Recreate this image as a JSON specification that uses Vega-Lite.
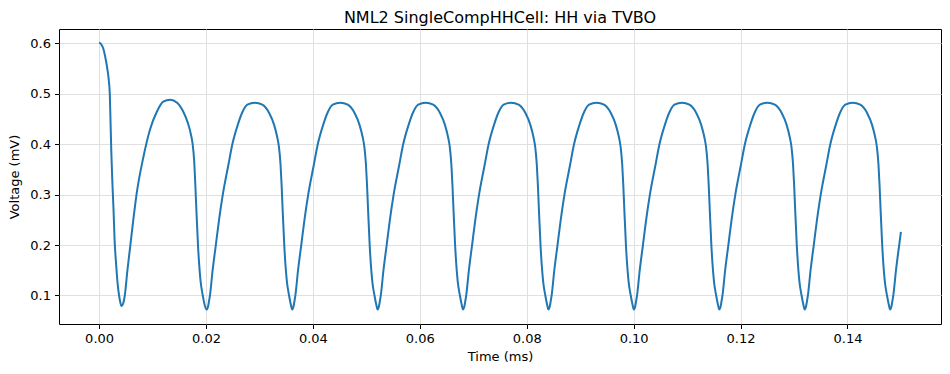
{
  "$schema": "https://vega.github.io/schema/vega-lite/v6.json",
  "autosize": "none",
  "width": 882,
  "height": 295,
  "padding": {"left": 59, "top": 29, "right": 9, "bottom": 50},
  "background": "white",
  "title": {
    "text": "NML2 SingleCompHHCell: HH via TVBO",
    "font": "DejaVu Sans",
    "fontSize": 16,
    "fontWeight": "normal",
    "color": "black",
    "anchor": "middle",
    "baseline": "bottom",
    "offset": 3,
    "dy": 16
  },
  "config": {
    "view": {"stroke": "black", "strokeWidth": 1},
    "axis": {
      "labelFont": "DejaVu Sans",
      "labelFontSize": 13,
      "labelColor": "black",
      "titleFont": "DejaVu Sans",
      "titleFontSize": 13,
      "titleFontWeight": "normal",
      "titleColor": "black",
      "tickColor": "black",
      "tickSize": 4.5,
      "tickWidth": 1,
      "domain": false,
      "grid": true,
      "gridColor": "#e0e0e0",
      "gridWidth": 1
    }
  },
  "data": {
    "values": [
      {"t": 0.0000, "v": 0.601},
      {"t": 0.0003, "v": 0.599},
      {"t": 0.0006, "v": 0.594},
      {"t": 0.0009, "v": 0.585},
      {"t": 0.0012, "v": 0.570},
      {"t": 0.0015, "v": 0.552},
      {"t": 0.0018, "v": 0.528},
      {"t": 0.0020, "v": 0.500},
      {"t": 0.00215, "v": 0.440},
      {"t": 0.0023, "v": 0.380},
      {"t": 0.0025, "v": 0.320},
      {"t": 0.0027, "v": 0.270},
      {"t": 0.0029, "v": 0.210},
      {"t": 0.0032, "v": 0.160},
      {"t": 0.0035, "v": 0.120},
      {"t": 0.00374, "v": 0.100},
      {"t": 0.0039, "v": 0.090},
      {"t": 0.0042, "v": 0.079},
      {"t": 0.0045, "v": 0.084},
      {"t": 0.00481, "v": 0.100},
      {"t": 0.0053, "v": 0.150},
      {"t": 0.00585, "v": 0.200},
      {"t": 0.0064, "v": 0.250},
      {"t": 0.0070, "v": 0.300},
      {"t": 0.0083, "v": 0.375},
      {"t": 0.0095, "v": 0.428},
      {"t": 0.0108, "v": 0.464},
      {"t": 0.0120, "v": 0.484},
      {"t": 0.0133, "v": 0.488},
      {"t": 0.0146, "v": 0.482},
      {"t": 0.0158, "v": 0.463},
      {"t": 0.0166, "v": 0.442},
      {"t": 0.0172, "v": 0.418},
      {"t": 0.0175, "v": 0.400},
      {"t": 0.0178, "v": 0.365},
      {"t": 0.0180, "v": 0.320},
      {"t": 0.0182, "v": 0.270},
      {"t": 0.0185, "v": 0.200},
      {"t": 0.0190, "v": 0.127},
      {"t": 0.0194, "v": 0.100},
      {"t": 0.01975, "v": 0.081},

      {"t": 0.02014, "v": 0.072},
      {"t": 0.02034, "v": 0.076},
      {"t": 0.02054, "v": 0.087},
      {"t": 0.02074, "v": 0.100},
      {"t": 0.02124, "v": 0.150},
      {"t": 0.02184, "v": 0.200},
      {"t": 0.02244, "v": 0.250},
      {"t": 0.02314, "v": 0.300},
      {"t": 0.02414, "v": 0.356},
      {"t": 0.02494, "v": 0.400},
      {"t": 0.02594, "v": 0.438},
      {"t": 0.02684, "v": 0.464},
      {"t": 0.02774, "v": 0.478},
      {"t": 0.02914, "v": 0.482},
      {"t": 0.03054, "v": 0.478},
      {"t": 0.03184, "v": 0.461},
      {"t": 0.03274, "v": 0.438},
      {"t": 0.03334, "v": 0.413},
      {"t": 0.03364, "v": 0.395},
      {"t": 0.03394, "v": 0.360},
      {"t": 0.03414, "v": 0.320},
      {"t": 0.03434, "v": 0.270},
      {"t": 0.03464, "v": 0.200},
      {"t": 0.03514, "v": 0.127},
      {"t": 0.03554, "v": 0.100},
      {"t": 0.03589, "v": 0.081},

      {"t": 0.03612, "v": 0.072},
      {"t": 0.03632, "v": 0.076},
      {"t": 0.03652, "v": 0.087},
      {"t": 0.03672, "v": 0.100},
      {"t": 0.03722, "v": 0.150},
      {"t": 0.03782, "v": 0.200},
      {"t": 0.03842, "v": 0.250},
      {"t": 0.03912, "v": 0.300},
      {"t": 0.04012, "v": 0.356},
      {"t": 0.04092, "v": 0.400},
      {"t": 0.04192, "v": 0.438},
      {"t": 0.04282, "v": 0.464},
      {"t": 0.04372, "v": 0.478},
      {"t": 0.04512, "v": 0.482},
      {"t": 0.04652, "v": 0.478},
      {"t": 0.04782, "v": 0.461},
      {"t": 0.04872, "v": 0.438},
      {"t": 0.04932, "v": 0.413},
      {"t": 0.04962, "v": 0.395},
      {"t": 0.04992, "v": 0.360},
      {"t": 0.05012, "v": 0.320},
      {"t": 0.05032, "v": 0.270},
      {"t": 0.05062, "v": 0.200},
      {"t": 0.05112, "v": 0.127},
      {"t": 0.05152, "v": 0.100},
      {"t": 0.05187, "v": 0.081},

      {"t": 0.05210, "v": 0.072},
      {"t": 0.05230, "v": 0.076},
      {"t": 0.05250, "v": 0.087},
      {"t": 0.05270, "v": 0.100},
      {"t": 0.05320, "v": 0.150},
      {"t": 0.05380, "v": 0.200},
      {"t": 0.05440, "v": 0.250},
      {"t": 0.05510, "v": 0.300},
      {"t": 0.05610, "v": 0.356},
      {"t": 0.05690, "v": 0.400},
      {"t": 0.05790, "v": 0.438},
      {"t": 0.05880, "v": 0.464},
      {"t": 0.05970, "v": 0.478},
      {"t": 0.06110, "v": 0.482},
      {"t": 0.06250, "v": 0.478},
      {"t": 0.06380, "v": 0.461},
      {"t": 0.06470, "v": 0.438},
      {"t": 0.06530, "v": 0.413},
      {"t": 0.06560, "v": 0.395},
      {"t": 0.06590, "v": 0.360},
      {"t": 0.06610, "v": 0.320},
      {"t": 0.06630, "v": 0.270},
      {"t": 0.06660, "v": 0.200},
      {"t": 0.06710, "v": 0.127},
      {"t": 0.06750, "v": 0.100},
      {"t": 0.06785, "v": 0.081},

      {"t": 0.06808, "v": 0.072},
      {"t": 0.06828, "v": 0.076},
      {"t": 0.06848, "v": 0.087},
      {"t": 0.06868, "v": 0.100},
      {"t": 0.06918, "v": 0.150},
      {"t": 0.06978, "v": 0.200},
      {"t": 0.07038, "v": 0.250},
      {"t": 0.07108, "v": 0.300},
      {"t": 0.07208, "v": 0.356},
      {"t": 0.07288, "v": 0.400},
      {"t": 0.07388, "v": 0.438},
      {"t": 0.07478, "v": 0.464},
      {"t": 0.07568, "v": 0.478},
      {"t": 0.07708, "v": 0.482},
      {"t": 0.07848, "v": 0.478},
      {"t": 0.07978, "v": 0.461},
      {"t": 0.08068, "v": 0.438},
      {"t": 0.08128, "v": 0.413},
      {"t": 0.08158, "v": 0.395},
      {"t": 0.08188, "v": 0.360},
      {"t": 0.08208, "v": 0.320},
      {"t": 0.08228, "v": 0.270},
      {"t": 0.08258, "v": 0.200},
      {"t": 0.08308, "v": 0.127},
      {"t": 0.08348, "v": 0.100},
      {"t": 0.08383, "v": 0.081},

      {"t": 0.08406, "v": 0.072},
      {"t": 0.08426, "v": 0.076},
      {"t": 0.08446, "v": 0.087},
      {"t": 0.08466, "v": 0.100},
      {"t": 0.08516, "v": 0.150},
      {"t": 0.08576, "v": 0.200},
      {"t": 0.08636, "v": 0.250},
      {"t": 0.08706, "v": 0.300},
      {"t": 0.08806, "v": 0.356},
      {"t": 0.08886, "v": 0.400},
      {"t": 0.08986, "v": 0.438},
      {"t": 0.09076, "v": 0.464},
      {"t": 0.09166, "v": 0.478},
      {"t": 0.09306, "v": 0.482},
      {"t": 0.09446, "v": 0.478},
      {"t": 0.09576, "v": 0.461},
      {"t": 0.09666, "v": 0.438},
      {"t": 0.09726, "v": 0.413},
      {"t": 0.09756, "v": 0.395},
      {"t": 0.09786, "v": 0.360},
      {"t": 0.09806, "v": 0.320},
      {"t": 0.09826, "v": 0.270},
      {"t": 0.09856, "v": 0.200},
      {"t": 0.09906, "v": 0.127},
      {"t": 0.09946, "v": 0.100},
      {"t": 0.09981, "v": 0.081},

      {"t": 0.10004, "v": 0.072},
      {"t": 0.10024, "v": 0.076},
      {"t": 0.10044, "v": 0.087},
      {"t": 0.10064, "v": 0.100},
      {"t": 0.10114, "v": 0.150},
      {"t": 0.10174, "v": 0.200},
      {"t": 0.10234, "v": 0.250},
      {"t": 0.10304, "v": 0.300},
      {"t": 0.10404, "v": 0.356},
      {"t": 0.10484, "v": 0.400},
      {"t": 0.10584, "v": 0.438},
      {"t": 0.10674, "v": 0.464},
      {"t": 0.10764, "v": 0.478},
      {"t": 0.10904, "v": 0.482},
      {"t": 0.11044, "v": 0.478},
      {"t": 0.11174, "v": 0.461},
      {"t": 0.11264, "v": 0.438},
      {"t": 0.11324, "v": 0.413},
      {"t": 0.11354, "v": 0.395},
      {"t": 0.11384, "v": 0.360},
      {"t": 0.11404, "v": 0.320},
      {"t": 0.11424, "v": 0.270},
      {"t": 0.11454, "v": 0.200},
      {"t": 0.11504, "v": 0.127},
      {"t": 0.11544, "v": 0.100},
      {"t": 0.11579, "v": 0.081},

      {"t": 0.11602, "v": 0.072},
      {"t": 0.11622, "v": 0.076},
      {"t": 0.11642, "v": 0.087},
      {"t": 0.11662, "v": 0.100},
      {"t": 0.11712, "v": 0.150},
      {"t": 0.11772, "v": 0.200},
      {"t": 0.11832, "v": 0.250},
      {"t": 0.11902, "v": 0.300},
      {"t": 0.12002, "v": 0.356},
      {"t": 0.12082, "v": 0.400},
      {"t": 0.12182, "v": 0.438},
      {"t": 0.12272, "v": 0.464},
      {"t": 0.12362, "v": 0.478},
      {"t": 0.12502, "v": 0.482},
      {"t": 0.12642, "v": 0.478},
      {"t": 0.12772, "v": 0.461},
      {"t": 0.12862, "v": 0.438},
      {"t": 0.12922, "v": 0.413},
      {"t": 0.12952, "v": 0.395},
      {"t": 0.12982, "v": 0.360},
      {"t": 0.13002, "v": 0.320},
      {"t": 0.13022, "v": 0.270},
      {"t": 0.13052, "v": 0.200},
      {"t": 0.13102, "v": 0.127},
      {"t": 0.13142, "v": 0.100},
      {"t": 0.13177, "v": 0.081},

      {"t": 0.13200, "v": 0.072},
      {"t": 0.13220, "v": 0.076},
      {"t": 0.13240, "v": 0.087},
      {"t": 0.13260, "v": 0.100},
      {"t": 0.13310, "v": 0.150},
      {"t": 0.13370, "v": 0.200},
      {"t": 0.13430, "v": 0.250},
      {"t": 0.13500, "v": 0.300},
      {"t": 0.13600, "v": 0.356},
      {"t": 0.13680, "v": 0.400},
      {"t": 0.13780, "v": 0.438},
      {"t": 0.13870, "v": 0.464},
      {"t": 0.13960, "v": 0.478},
      {"t": 0.14100, "v": 0.482},
      {"t": 0.14240, "v": 0.478},
      {"t": 0.14370, "v": 0.461},
      {"t": 0.14460, "v": 0.438},
      {"t": 0.14520, "v": 0.413},
      {"t": 0.14550, "v": 0.395},
      {"t": 0.14580, "v": 0.360},
      {"t": 0.14600, "v": 0.320},
      {"t": 0.14620, "v": 0.270},
      {"t": 0.14650, "v": 0.200},
      {"t": 0.14700, "v": 0.127},
      {"t": 0.14740, "v": 0.100},
      {"t": 0.14775, "v": 0.081},

      {"t": 0.14798, "v": 0.072},
      {"t": 0.14818, "v": 0.076},
      {"t": 0.14838, "v": 0.087},
      {"t": 0.14858, "v": 0.100},
      {"t": 0.14908, "v": 0.150},
      {"t": 0.14968, "v": 0.200},
      {"t": 0.15000, "v": 0.226}
    ]
  },
  "mark": {"type": "line", "color": "#1f77b4", "strokeWidth": 2, "interpolate": "monotone", "clip": true},
  "encoding": {
    "x": {
      "field": "t",
      "type": "quantitative",
      "scale": {"domain": [-0.0075, 0.1575], "nice": false, "zero": false},
      "axis": {"title": "Time (ms)", "values": [0, 0.02, 0.04, 0.06, 0.08, 0.1, 0.12, 0.14], "format": ".2f", "labelPadding": 4, "titlePadding": 5, "labelFlush": false}
    },
    "y": {
      "field": "v",
      "type": "quantitative",
      "scale": {"domain": [0.0435, 0.628], "nice": false, "zero": false},
      "axis": {"title": "Voltage (mV)", "values": [0.1, 0.2, 0.3, 0.4, 0.5, 0.6], "format": ".1f", "labelPadding": 4, "titlePadding": 8, "labelFlush": false}
    }
  }
}
